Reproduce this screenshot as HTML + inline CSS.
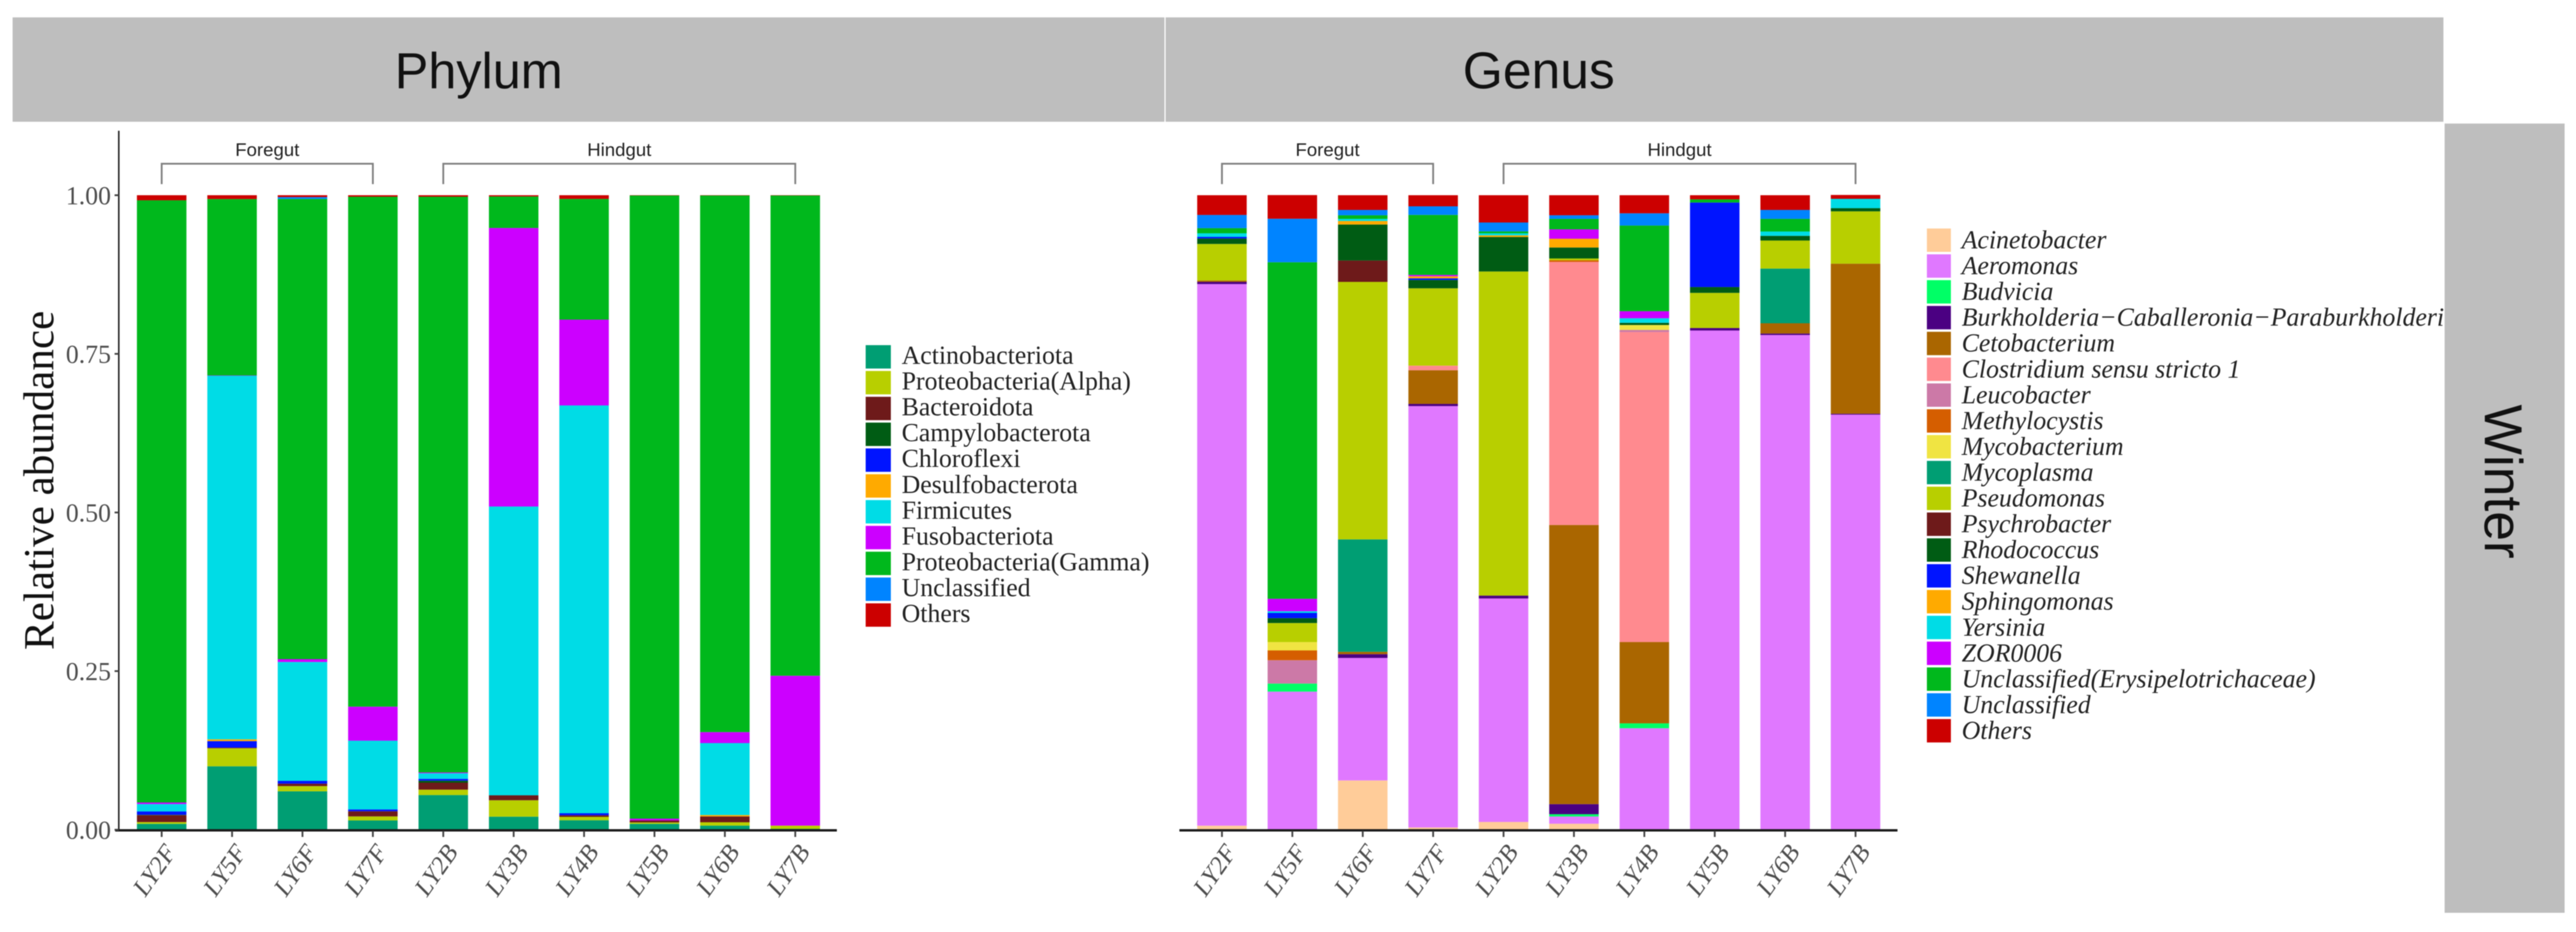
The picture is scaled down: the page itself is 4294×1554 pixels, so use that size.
<!DOCTYPE html>
<html lang="en">
<head>
<meta charset="utf-8">
<title>Phylum and genus relative abundance, Winter</title>
<style>
html,body{margin:0;padding:0;background:#fff;}
svg{display:block;filter:blur(0.8px);}
.sans{font-family:"Liberation Sans",sans-serif;}
.serif{font-family:"Liberation Serif",serif;}
</style>
</head>
<body>
<svg id="chart" xmlns="http://www.w3.org/2000/svg" width="4294" height="1554" viewBox="0 0 4294 1554">
  <rect x="0" y="0" width="4294" height="1554" fill="#ffffff"/>
  <g id="left-panel"></g>
  <g id="right-panel"></g>
  <g>
    <rect x="21" y="29" width="1920" height="174" fill="#bebebe"/>
    <rect x="1943" y="29" width="2130" height="174" fill="#bebebe"/>
    <rect x="4075" y="206" width="200" height="1316" fill="#bebebe"/>
    <text class="sans" x="798" y="147" font-size="84" text-anchor="middle" fill="#111">Phylum</text>
    <text class="sans" x="2565" y="147" font-size="86" text-anchor="middle" fill="#111">Genus</text>
    <text class="sans" transform="translate(4142,803) rotate(90)" font-size="89" text-anchor="middle" fill="#111">Winter</text>
  </g>
</svg>
<script>
// Shared axis data
const samples = ["LY2F","LY5F","LY6F","LY7F","LY2B","LY3B","LY4B","LY5B","LY6B","LY7B"];
const yTicks = [0, 0.25, 0.5, 0.75, 1];
const yTickLabels = ["0.00","0.25","0.50","0.75","1.00"];

// Phylum panel: segment heights per sample, stacked bottom to top
const phylumNames = ["Actinobacteriota","Proteobacteria(Alpha)","Bacteroidota","Campylobacterota","Chloroflexi","Desulfobacterota","Firmicutes","Fusobacteriota","Proteobacteria(Gamma)","Unclassified","Others"];
const phylumColors = ["#009e73","#b8cf00","#6e1a1a","#005c14","#0014ff","#ffaa00","#00dce6","#cc00ff","#00b81c","#0084ff","#cc0000"];
const actinobacteriota = [.0093,.1000,.0606,.0147,.0547,.0206,.0150,.0093,.0065,.0014];
const alphaProteo = [.0028,.0284,.0082,.0063,.0085,.0259,.0053,.0022,.0053,.0051];
const bacteroidota = [.0108,.0010,.0038,.0081,.0110,.0078,.0025,.0032,.0092,0];
const campylobacterota = [.0006,0,0,0,.0031,0,0,0,0,0];
const chloroflexi = [.0053,.0103,.0044,.0029,.0029,0,.0032,0,0,0];
const desulfobacterota = [0,.0028,0,0,0,0,0,0,.0022,0];
const firmicutes = [.0117,.5730,.1874,.1084,.0088,.4551,.6427,0,.1134,0];
const fusobacteriota = [.0025,.0005,.0045,.0536,.0013,.4390,.1352,.0028,.0173,.2362];
const gammaProteo = [.9490,.2780,.7253,.8036,.9073,.0496,.1903,.9820,.8456,.7568];
const phylumUnclassified = [0,0,.0028,0,0,0,0,0,0,0];
const phylumOthers = [.0080,.0060,.0030,.0024,.0024,.0020,.0058,.0005,.0005,.0005];
const phylumSeries = [actinobacteriota,alphaProteo,bacteroidota,campylobacterota,chloroflexi,desulfobacterota,firmicutes,fusobacteriota,gammaProteo,phylumUnclassified,phylumOthers];

// Genus panel: segment heights per sample, stacked bottom to top
const genusNames = ["Acinetobacter","Aeromonas","Budvicia","Burkholderia\u2212Caballeronia\u2212Paraburkholderia","Cetobacterium","Clostridium sensu stricto 1","Leucobacter","Methylocystis","Mycobacterium","Mycoplasma","Pseudomonas","Psychrobacter","Rhodococcus","Shewanella","Sphingomonas","Yersinia","ZOR0006","Unclassified(Erysipelotrichaceae)","Unclassified","Others"];
const genusColors = ["#ffcc99","#e078ff","#00ff66","#4b0082","#aa6600","#ff8a8f","#cc79a7","#d55e00","#f0e442","#009e73","#b8cf00","#6e1a1a","#005c14","#0014ff","#ffaa00","#00dce6","#cc00ff","#00b81c","#0084ff","#cc0000"];
const acinetobacter = [.0064,0,.0777,.0036,.0123,.0095,0,0,0,.0005];
const aeromonas = [.8536,.2177,.1931,.6641,.3522,.0114,.1600,.7868,.7797,.6537];
const budvicia = [0,.0127,0,0,0,.0036,.0077,0,0,0];
const burkholderia = [.0034,0,.0059,.0034,.0045,.0159,0,.0039,.0023,.0014];
const cetobacterium = [.0022,0,.0037,.0531,0,.4399,.1281,0,.0162,.2365];
const clostridium = [0,0,0,.0072,0,.4146,.4886,0,0,0];
const leucobacter = [0,.0368,0,0,0,0,.0033,0,0,0];
const methylocystis = [0,.0154,0,0,0,.0026,0,0,0,0];
const mycobacterium = [0,.0132,0,0,0,0,.0078,0,0,0];
const mycoplasma = [0,0,.1772,0,0,0,0,0,.0862,0];
const pseudomonas = [.0576,.0300,.4058,.1219,.5108,.0028,0,.0554,.0442,.0825];
const psychrobacter = [0,0,.0337,0,0,0,0,0,0,0];
const rhodococcus = [.0086,.0077,.0567,.0132,.0544,.0173,.0034,.0092,.0074,.0050];
const shewanella = [.0025,.0082,0,.0025,0,0,0,.1332,0,0];
const sphingomonas = [0,0,.0056,.0032,.0025,.0138,0,0,0,0];
const yersinia = [.0057,.0027,.0033,0,.0033,0,.0072,0,.0068,.0147];
const zor0006 = [0,.0196,0,.0022,0,.0148,.0111,0,0,0];
const erysipelotrichaceae = [.0081,.5304,.0057,.0946,.0030,.0165,.1350,.0050,.0199,0];
const genusUnclassified = [.0208,.0685,.0084,.0135,.0140,.0057,.0193,0,.0141,0];
const genusOthers = [.0311,.0373,.0232,.0175,.0430,.0316,.0285,.0065,.0232,.0061];
const genusSeries = [acinetobacter,aeromonas,budvicia,burkholderia,cetobacterium,clostridium,leucobacter,methylocystis,mycobacterium,mycoplasma,pseudomonas,psychrobacter,rhodococcus,shewanella,sphingomonas,yersinia,zor0006,erysipelotrichaceae,genusUnclassified,genusOthers];

const bracketGroups = [
  {label:"Foregut", from:0, to:3},
  {label:"Hindgut", from:4, to:9}
];

const NS = "http://www.w3.org/2000/svg";
const Y0 = 1383.5, YSPAN = 1058, STEP = 117.35, BARW = 82.5;
const yScale = v => Y0 - v * YSPAN;

function mk(parent, tag, attrs, txt){
  const el = document.createElementNS(NS, tag);
  for (const k in attrs) el.setAttribute(k, attrs[k]);
  if (txt !== undefined) el.textContent = txt;
  parent.appendChild(el);
  return el;
}

function drawPanel(root, opt){
  const xScale = i => opt.x0 + STEP * i;

  // bars
  samples.forEach((s, i) => {
    let cum = 0;
    opt.series.forEach((vals, k) => {
      const v = vals[i];
      if (v > 0) {
        const r = mk(root, "rect", {x: xScale(i) - BARW/2, y: yScale(cum + v), width: BARW, height: v * YSPAN, fill: opt.colors[k]});
        
        
      }
      cum += v;
    });
  });

  // x axis
  const ax = mk(root, "line", {x1: opt.axisL, x2: opt.axisR, y1: Y0 + 1, y2: Y0 + 1, stroke: "#1a1a1a", "stroke-width": 4});
  
  
  samples.forEach((s, i) => {
    const t = mk(root, "line", {x1: xScale(i), x2: xScale(i), y1: Y0 + 2, y2: Y0 + 12, stroke: "#444", "stroke-width": 3});
    
    
    const lx = xScale(i) + 26, ly = 1421;
    const l = mk(root, "text", {x: lx, y: ly, transform: "rotate(-55 " + lx + " " + ly + ")", "text-anchor": "end", "font-size": 42, "font-style": "italic", fill: "#4d4d4d", class: "serif"}, s);
    
    
  });

  // brackets
  bracketGroups.forEach(b => {
    const a = xScale(b.from), c = xScale(b.to);
    const p = mk(root, "path", {d: "M" + a + " 307V273H" + c + "V307", fill: "none", stroke: "#808080", "stroke-width": 3});
    
    
    const t = mk(root, "text", {x: (a + c) / 2, y: 260, "text-anchor": "middle", "font-size": 31, fill: "#222", class: "sans"}, b.label);
    
    
  });

  // legend
  opt.names.forEach((n, k) => {
    const y = opt.legY + k * 43.05;
    const sw = mk(root, "rect", {x: opt.legX, y: y, width: opt.legW, height: 39, fill: opt.colors[k]});
    
    
    const attrs = {x: opt.legText, y: y + opt.legBase, "font-size": 43, fill: "#222", class: "serif"};
    if (opt.italic) attrs["font-style"] = "italic";
    const t = mk(root, "text", attrs, n);
    
    
  });
}

const leftRoot = document.getElementById("left-panel");
drawPanel(leftRoot, {x0: 269.5, axisL: 192, axisR: 1395, series: phylumSeries, colors: phylumColors, names: phylumNames, legX: 1443, legW: 42, legY: 575.5, legText: 1503, legBase: 31, italic: false});
drawPanel(document.getElementById("right-panel"), {x0: 2036.9, axisL: 1966, axisR: 3163, series: genusSeries, colors: genusColors, names: genusNames, legX: 3212, legW: 40, legY: 381, legText: 3270, legBase: 33, italic: true});

// y axis (left panel only)
const yLine = mk(leftRoot, "line", {x1: 198, x2: 198, y1: 218, y2: Y0 + 2, stroke: "#1a1a1a", "stroke-width": 2.5});


yTicks.forEach((v, i) => {
  const t = mk(leftRoot, "line", {x1: 191, x2: 198, y1: yScale(v), y2: yScale(v), stroke: "#444", "stroke-width": 3});
  
  
  const l = mk(leftRoot, "text", {x: 185, y: yScale(v) + 15, "text-anchor": "end", "font-size": 43, fill: "#4d4d4d", class: "serif"}, yTickLabels[i]);
  
  
});
const yTitle = mk(leftRoot, "text", {transform: "translate(89,801) rotate(-90)", "text-anchor": "middle", "font-size": 72, fill: "#111", class: "serif"}, "Relative abundance");


</script>
</body>
</html>
